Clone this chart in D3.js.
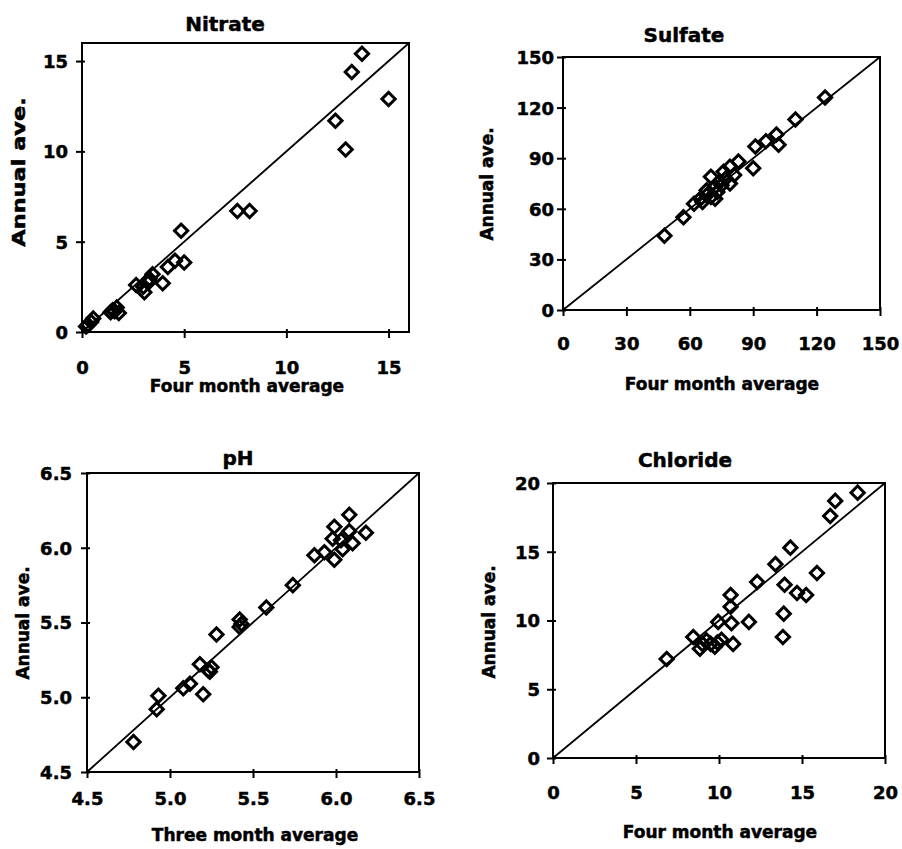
<!DOCTYPE html>
<html>
<head>
<meta charset="utf-8">
<script src="https://cdn.jsdelivr.net/npm/d3@7"></script>
<style>
  html, body { margin: 0; padding: 0; background: #fff; }
  svg { display: block; }
  text { font-family: "DejaVu Sans", "Liberation Sans", sans-serif; font-weight: bold; fill: #000; stroke: #000; stroke-width: 0.5px; }
</style>
</head>
<body>
<div id="chart"></div>
<script>
// ---------------- DATA ----------------

// [four month average, annual average]
const nitratePoints = [
  [13.7, 15.4], [13.2, 14.4], [15.0, 12.9], [12.4, 11.7], [12.9, 10.1],
  [7.6, 6.7], [8.2, 6.7], [4.85, 5.6], [5.0, 3.85], [4.55, 3.95],
  [4.2, 3.6], [3.95, 2.7], [3.45, 3.2], [3.3, 2.95], [3.3, 2.8],
  [3.0, 2.5], [3.05, 2.2], [2.65, 2.6], [1.7, 1.35], [1.5, 1.2],
  [1.4, 1.1], [1.8, 1.05], [1.6, 1.15], [0.55, 0.75], [0.45, 0.55],
  [0.3, 0.4], [0.2, 0.3]
];

const sulfatePoints = [
  [48, 44], [57, 55], [124, 126], [110, 113], [101, 104],
  [102, 98], [96, 100], [91, 97], [90, 84], [83, 88],
  [79, 85], [81, 80], [79, 75], [70, 79], [76, 82],
  [74, 76], [72, 73], [68, 71], [70, 67], [65, 66],
  [62, 63], [66, 64], [72, 66], [77, 78], [75, 74],
  [68, 68], [73, 70]
];

// [three month average, annual average]
const phPoints = [
  [4.78, 4.70], [4.92, 4.92], [4.93, 5.01], [5.08, 5.06], [5.12, 5.09],
  [5.20, 5.02], [5.18, 5.22], [5.24, 5.17], [5.25, 5.20], [5.23, 5.18],
  [5.28, 5.42], [5.42, 5.52], [5.43, 5.49], [5.42, 5.47], [5.58, 5.60],
  [5.74, 5.75], [5.87, 5.95], [5.93, 5.97], [5.99, 6.14], [5.98, 6.06],
  [5.99, 5.92], [6.04, 5.99], [6.08, 6.22], [6.08, 6.11], [6.10, 6.03],
  [6.18, 6.10], [6.03, 6.05]
];

const chloridePoints = [
  [6.85, 7.2], [8.45, 8.8], [8.85, 7.95], [9.0, 8.3], [9.25, 8.55],
  [9.5, 8.3], [9.75, 8.1], [9.9, 8.4], [10.15, 8.6], [9.95, 9.9],
  [10.85, 8.3], [10.75, 9.8], [10.7, 11.0], [10.7, 11.85], [11.8, 9.9],
  [12.3, 12.8], [13.4, 14.1], [14.3, 15.3], [13.95, 12.6], [13.9, 10.5],
  [13.85, 8.8], [14.7, 12.0], [15.25, 11.85], [15.9, 13.45], [16.7, 17.6],
  [17.0, 18.7], [18.35, 19.3]
];

const nitrateTicks = [0, 5, 10, 15];
const sulfateTicks = [0, 30, 60, 90, 120, 150];
const phTicks = [4.5, 5.0, 5.5, 6.0, 6.5];
const chlorideTicks = [0, 5, 10, 15, 20];

// ---------------- PANELS ----------------

const panels = [
  {
    title: "Nitrate", points: nitratePoints, domain: [0, 16], ticks: nitrateTicks, fmt: d3.format("d"),
    xLabel: "Four month average",
    box: { left: 82, right: 409, top: 43, bottom: 332 },
    titlePos: [225, 31], xLabelPos: [247, 392], yLabelPos: [19, 172], yStretch: 1.32,
    xTickDy: 42, yTickPad: 14
  },
  {
    title: "Sulfate", points: sulfatePoints, domain: [0, 150], ticks: sulfateTicks, fmt: d3.format("d"),
    xLabel: "Four month average",
    box: { left: 563, right: 880, top: 57, bottom: 310 },
    titlePos: [684, 42], xLabelPos: [722, 390], yLabelPos: [487, 184], yStretch: 1,
    xTickDy: 40, yTickPad: 9
  },
  {
    title: "pH", points: phPoints, domain: [4.5, 6.5], ticks: phTicks, fmt: d3.format(".1f"),
    xLabel: "Three month average",
    box: { left: 87, right: 419, top: 473, bottom: 772 },
    titlePos: [238, 465], xLabelPos: [255, 841], yLabelPos: [23, 623], yStretch: 1,
    xTickDy: 33, yTickPad: 15
  },
  {
    title: "Chloride", points: chloridePoints, domain: [0, 20], ticks: chlorideTicks, fmt: d3.format("d"),
    xLabel: "Four month average",
    box: { left: 553, right: 885, top: 483, bottom: 758 },
    titlePos: [685, 467], xLabelPos: [720, 838], yLabelPos: [489, 622], yStretch: 1,
    xTickDy: 41, yTickPad: 13
  }
];

// ---------------- DRAW ----------------

const svg = d3.select("#chart")
  .append("svg")
  .attr("width", 902)
  .attr("height", 849);

const diamond = d3.symbol().type(d3.symbolSquare).size(88);

panels.forEach(p => {
  const b = p.box;
  const g = svg.append("g");

  const x = d3.scaleLinear().domain(p.domain).range([b.left, b.right]);
  const y = d3.scaleLinear().domain(p.domain).range([b.bottom, b.top]);

  // frame
  g.append("rect")
    .attr("x", b.left).attr("y", b.top)
    .attr("width", b.right - b.left).attr("height", b.bottom - b.top)
    .attr("fill", "none").attr("stroke", "#000").attr("stroke-width", 2);

  // axes
  const xAxis = g.append("g")
    .attr("transform", `translate(0,${b.bottom})`)
    .call(d3.axisBottom(x).tickValues(p.ticks).tickFormat(p.fmt).tickSize(6).tickPadding(0));
  xAxis.select(".domain").remove();
  xAxis.selectAll(".tick line").attr("y1", -3).attr("stroke-width", 2);
  xAxis.selectAll(".tick text").attr("y", p.xTickDy).attr("dy", 0);

  const yAxis = g.append("g")
    .attr("transform", `translate(${b.left},0)`)
    .call(d3.axisLeft(y).tickValues(p.ticks).tickFormat(p.fmt).tickSize(6).tickPadding(0));
  yAxis.select(".domain").remove();
  yAxis.selectAll(".tick line").attr("x1", 3).attr("stroke-width", 2);
  yAxis.selectAll(".tick text").attr("x", -p.yTickPad).attr("dy", "0.36em");

  g.selectAll(".tick text")
    .attr("fill", "#000")
    .style("font-size", "18px");
  [xAxis, yAxis].forEach(a => a.attr("font-family", null).attr("font-size", null));

  // 1:1 line
  g.append("line")
    .attr("x1", x(p.domain[0])).attr("y1", y(p.domain[0]))
    .attr("x2", x(p.domain[1])).attr("y2", y(p.domain[1]))
    .attr("stroke", "#000").attr("stroke-width", 1.8);

  // points
  g.append("g")
    .selectAll("path")
    .data(p.points)
    .join("path")
    .attr("d", diamond)
    .attr("transform", d => `translate(${x(d[0])},${y(d[1])}) rotate(45)`)
    .attr("fill", "none")
    .attr("stroke", "#000")
    .attr("stroke-width", 3);

  // labels
  g.append("text")
    .attr("x", p.titlePos[0]).attr("y", p.titlePos[1])
    .attr("text-anchor", "middle")
    .style("font-size", "20px")
    .text(p.title);

  g.append("text")
    .attr("x", p.xLabelPos[0]).attr("y", p.xLabelPos[1])
    .attr("text-anchor", "middle")
    .style("font-size", "17px")
    .text(p.xLabel);

  g.append("text")
    .attr("transform", `translate(${p.yLabelPos[0]},${p.yLabelPos[1]}) rotate(-90) scale(${p.yStretch},1)`)
    .attr("text-anchor", "middle")
    .attr("dy", "0.36em")
    .style("font-size", "17px")
    .text("Annual ave.");
});
</script>
</body>
</html>
